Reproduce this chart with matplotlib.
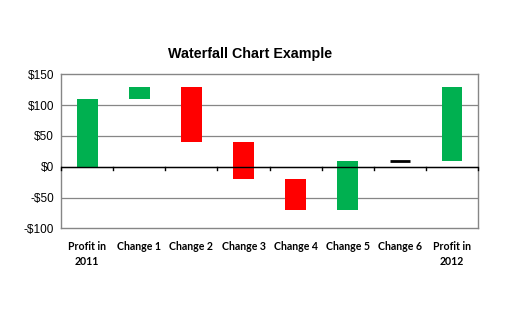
import matplotlib.pyplot as plt
from matplotlib.ticker import FuncFormatter

categories = ['Profit in\n2011', 'Change 1', 'Change 2', 'Change 3',
              'Change 4', 'Change 5', 'Change 6', 'Profit in\n2012']
starts = [0, 110, 130, 40, -20, -70, 10, 10]
ends = [110, 130, 40, -20, -70, 10, 10, 130]
colors = ['#00B050', '#00B050', '#FF0000', '#FF0000',
          '#FF0000', '#00B050', '#000000', '#00B050']
y_ticks = [-100, -50, 0, 50, 100, 150]

fig = plt.figure(figsize=(5.18, 3.29), dpi=100)
ax = fig.add_axes([0.118, 0.306, 0.805, 0.468])

x = list(range(len(categories)))
for i in x:
    lo, hi = min(starts[i], ends[i]), max(starts[i], ends[i])
    if hi - lo == 0:
        # zero change -> flat black marker
        ax.hlines(starts[i], i - 0.2, i + 0.2, color=colors[i], lw=2, zorder=3)
    else:
        ax.bar(i, hi - lo, bottom=lo, width=0.4, color=colors[i], zorder=3)

ax.set_xlim(-0.5, len(categories) - 0.5)
ax.set_ylim(-100, 150)
ax.set_yticks(y_ticks)
ax.yaxis.set_major_formatter(FuncFormatter(lambda v, p: ('-$%d' % -v) if v < 0 else '$%d' % v))
for v in y_ticks[1:-1]:
    ax.axhline(v, color='#868686', lw=0.9, zorder=1)

# zero axis with category separators
ax.axhline(0, color='black', lw=1.0, zorder=4)
for b in range(len(categories) + 1):
    ax.plot([b - 0.5, b - 0.5], [0, -4.5], color='black', lw=1.0, zorder=4, clip_on=False)

for s in ax.spines.values():
    s.set_color('#868686')
    s.set_linewidth(1.0)

ax.set_xticks(x)
ax.set_xticklabels(categories, fontfamily='Lato', fontweight='bold', fontsize=7.6,
                   linespacing=1.5)
ax.tick_params(axis='x', length=0, pad=9)
ax.tick_params(axis='y', length=0, pad=5, labelsize=8.5)
for t in ax.get_yticklabels():
    t.set_fontfamily('Liberation Sans')

fig.text(0.483, 0.835, 'Waterfall Chart Example', ha='center', va='center',
         fontfamily='Liberation Sans', fontweight='bold', fontsize=10.3)

fig.savefig('out.png', dpi=100)
